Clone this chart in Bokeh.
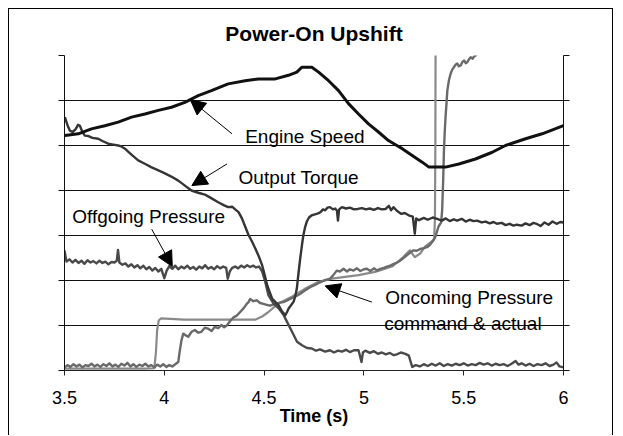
from bokeh.plotting import figure
from bokeh.models import FixedTicker, LinearAxis, Label, Arrow, NormalHead, Range1d
from bokeh.embed import file_html
from bokeh.resources import INLINE

# ---------------- data ----------------
x_ticks = [3.5, 4.0, 4.5, 5.0, 5.5, 6.0]
x_tick_labels = ["3.5", "4", "4.5", "5", "5.5", "6"]
y_grid = [0, 1, 2, 3, 4, 5, 6, 7]

engine_t = [3.502, 3.569, 3.635, 3.702, 3.769, 3.836, 3.903, 3.970, 4.036, 4.103, 4.170, 4.236,
            4.320, 4.405, 4.472, 4.556, 4.622, 4.664, 4.689, 4.739, 4.773, 4.823, 4.873, 4.923,
            4.973, 5.023, 5.073, 5.123, 5.165, 5.192, 5.242, 5.292, 5.326, 5.409, 5.476, 5.559,
            5.643, 5.709, 5.810, 5.893, 6.000]
engine_v = [5.22, 5.26, 5.37, 5.44, 5.52, 5.63, 5.70, 5.78, 5.85, 5.96, 6.11, 6.22,
            6.37, 6.44, 6.48, 6.48, 6.56, 6.63, 6.74, 6.74, 6.63, 6.44, 6.22, 5.93,
            5.70, 5.48, 5.30, 5.11, 5.00, 4.93, 4.78, 4.63, 4.52, 4.52, 4.59, 4.70,
            4.85, 5.00, 5.15, 5.26, 5.44]

torque_t = [3.502, 3.515, 3.527, 3.540, 3.555, 3.568, 3.577, 3.590, 3.602, 3.620, 3.640, 3.669,
            3.690, 3.719, 3.745, 3.769, 3.785, 3.803, 3.820, 3.840, 3.869, 3.900, 3.934, 3.965,
            4.003, 4.035, 4.070, 4.100, 4.136, 4.170, 4.203, 4.235, 4.270, 4.300, 4.320, 4.340,
            4.355, 4.372, 4.389, 4.405, 4.422, 4.440, 4.456, 4.475, 4.490, 4.503, 4.515, 4.528,
            4.540, 4.557, 4.573, 4.590, 4.606, 4.615, 4.623, 4.635, 4.648, 4.656, 4.664, 4.672,
            4.681, 4.690, 4.697, 4.705, 4.714, 4.725, 4.739, 4.755, 4.771, 4.785, 4.795, 4.806,
            4.818, 4.830, 4.845, 4.856, 4.865, 4.870, 4.876, 4.890, 4.910, 4.930, 4.950, 4.969,
            4.990, 5.010, 5.030, 5.050, 5.070, 5.090, 5.109, 5.125, 5.136, 5.148, 5.165, 5.188,
            5.205, 5.228, 5.245, 5.255, 5.262, 5.276, 5.300, 5.320, 5.345, 5.367, 5.390, 5.410,
            5.430, 5.450, 5.467, 5.490, 5.510, 5.530, 5.550, 5.567, 5.590, 5.610, 5.630, 5.650,
            5.666, 5.690, 5.710, 5.730, 5.750, 5.766, 5.790, 5.810, 5.830, 5.850, 5.865, 5.885,
            5.905, 5.925, 5.945, 5.965, 5.984, 6.000]
torque_v = [5.63, 5.45, 5.33, 5.30, 5.36, 5.46, 5.44, 5.30, 5.22, 5.21, 5.17, 5.15,
            5.10, 5.04, 5.02, 5.00, 4.98, 4.93, 4.86, 4.78, 4.67, 4.60, 4.52, 4.46,
            4.38, 4.31, 4.22, 4.12, 4.00, 3.95, 3.91, 3.83, 3.74, 3.67, 3.63, 3.64,
            3.58, 3.52, 3.38, 3.20, 3.01, 2.86, 2.71, 2.52, 2.34, 2.12, 1.90, 1.74,
            1.60, 1.52, 1.45, 1.31, 1.23, 1.30, 1.38, 1.45, 1.53, 1.65, 1.82, 2.15,
            2.49, 2.80, 3.01, 3.18, 3.31, 3.40, 3.45, 3.47, 3.49, 3.53, 3.58, 3.56,
            3.62, 3.63, 3.58, 3.60, 3.55, 3.33, 3.58, 3.63, 3.60, 3.62, 3.58, 3.59,
            3.61, 3.58, 3.60, 3.57, 3.61, 3.58, 3.59, 3.66, 3.56, 3.63, 3.55, 3.48,
            3.50, 3.44, 3.42, 3.04, 3.38, 3.34, 3.39, 3.35, 3.40, 3.37, 3.33, 3.38,
            3.32, 3.36, 3.33, 3.37, 3.31, 3.35, 3.32, 3.33, 3.29, 3.31, 3.27, 3.30,
            3.26, 3.28, 3.23, 3.26, 3.22, 3.24, 3.22, 3.27, 3.23, 3.28, 3.26, 3.21,
            3.29, 3.24, 3.31, 3.26, 3.30, 3.29]

offgoing_t = [3.500, 3.510, 3.525, 3.540, 3.555, 3.570, 3.585, 3.600, 3.615, 3.630, 3.645, 3.660,
              3.675, 3.690, 3.705, 3.720, 3.735, 3.750, 3.762, 3.768, 3.775, 3.790, 3.805, 3.820,
              3.835, 3.850, 3.865, 3.880, 3.895, 3.910, 3.925, 3.940, 3.955, 3.970, 3.985, 4.000,
              4.012, 4.025, 4.040, 4.055, 4.070, 4.085, 4.100, 4.115, 4.130, 4.145, 4.160, 4.175,
              4.190, 4.205, 4.220, 4.235, 4.250, 4.265, 4.280, 4.295, 4.310, 4.318, 4.328, 4.340,
              4.355, 4.370, 4.385, 4.400, 4.415, 4.430, 4.445, 4.460, 4.475, 4.490, 4.506, 4.522,
              4.547, 4.573, 4.598, 4.615, 4.640, 4.665, 4.690, 4.715, 4.739, 4.760, 4.780, 4.806,
              4.830, 4.850, 4.870, 4.890, 4.910, 4.930, 4.950, 4.973, 4.988, 4.995, 5.007, 5.030,
              5.050, 5.070, 5.090, 5.110, 5.130, 5.150, 5.165, 5.185, 5.208, 5.225, 5.242, 5.260,
              5.280, 5.300, 5.320, 5.340, 5.360, 5.380, 5.400, 5.420, 5.440, 5.460, 5.480, 5.500,
              5.520, 5.540, 5.560, 5.580, 5.600, 5.620, 5.640, 5.660, 5.680, 5.700, 5.720, 5.740,
              5.760, 5.775, 5.790, 5.810, 5.830, 5.850, 5.870, 5.890, 5.910, 5.930, 5.950, 5.965,
              5.980, 6.000]
offgoing_v = [2.67, 2.42, 2.47, 2.40, 2.46, 2.39, 2.44, 2.37, 2.45, 2.40, 2.43, 2.38,
              2.44, 2.39, 2.42, 2.36, 2.41, 2.40, 2.44, 2.68, 2.40, 2.35, 2.38, 2.31,
              2.36, 2.29, 2.34, 2.27, 2.33, 2.25, 2.30, 2.22, 2.28, 2.20, 2.26, 2.05,
              2.22, 2.32, 2.26, 2.33, 2.25, 2.31, 2.27, 2.33, 2.26, 2.30, 2.24, 2.31,
              2.27, 2.34, 2.26, 2.30, 2.25, 2.32, 2.27, 2.31, 2.28, 2.04, 2.20, 2.28,
              2.31, 2.27, 2.33, 2.29, 2.34, 2.30, 2.33, 2.29, 2.31, 2.20, 1.97, 1.67,
              1.49, 1.38, 1.23, 1.08, 0.86, 0.64, 0.56, 0.50, 0.49, 0.44, 0.47, 0.42,
              0.45, 0.40, 0.44, 0.42, 0.46, 0.41, 0.45, 0.45, 0.19, 0.40, 0.44, 0.39,
              0.43, 0.37, 0.40, 0.36, 0.39, 0.34, 0.36, 0.40, 0.37, 0.33, 0.08, 0.12,
              0.09, 0.14, 0.10, 0.15, 0.11, 0.16, 0.10, 0.14, 0.11, 0.15, 0.12, 0.16,
              0.11, 0.14, 0.12, 0.17, 0.13, 0.16, 0.11, 0.15, 0.12, 0.14, 0.10, 0.15,
              0.21, 0.13, 0.16, 0.11, 0.15, 0.10, 0.14, 0.12, 0.16, 0.10, 0.13, 0.18,
              0.09, 0.07]

actual_t = [3.500, 3.515, 3.530, 3.545, 3.560, 3.575, 3.590, 3.605, 3.620, 3.635, 3.650, 3.665,
            3.680, 3.695, 3.710, 3.725, 3.740, 3.755, 3.770, 3.785, 3.800, 3.815, 3.830, 3.845,
            3.860, 3.875, 3.890, 3.905, 3.920, 3.935, 3.950, 3.965, 3.980, 3.995, 4.010, 4.025,
            4.040, 4.055, 4.070, 4.078, 4.086, 4.095, 4.108, 4.120, 4.137, 4.153, 4.170, 4.186,
            4.203, 4.220, 4.237, 4.253, 4.270, 4.286, 4.300, 4.313, 4.330, 4.347, 4.363, 4.380,
            4.397, 4.413, 4.422, 4.430, 4.447, 4.463, 4.480, 4.497, 4.513, 4.530, 4.547, 4.564,
            4.580, 4.597, 4.613, 4.630, 4.655, 4.680, 4.705, 4.730, 4.755, 4.780, 4.805, 4.830,
            4.847, 4.864, 4.880, 4.898, 4.915, 4.930, 4.948, 4.965, 4.982, 5.000, 5.015, 5.032,
            5.050, 5.066, 5.082, 5.100, 5.116, 5.132, 5.150, 5.166, 5.182, 5.198, 5.215, 5.232,
            5.249, 5.265, 5.282, 5.300, 5.316, 5.330, 5.341, 5.357, 5.374, 5.387, 5.392, 5.397,
            5.401, 5.405, 5.409, 5.414, 5.418, 5.426, 5.434, 5.442, 5.451, 5.460, 5.468, 5.476,
            5.485, 5.494, 5.502, 5.510, 5.518, 5.527, 5.535, 5.545, 5.552, 5.560, 5.570, 5.600,
            6.000]
actual_v = [0.07, 0.12, 0.08, 0.14, 0.09, 0.13, 0.07, 0.12, 0.10, 0.15, 0.09, 0.13,
            0.08, 0.14, 0.10, 0.16, 0.09, 0.13, 0.08, 0.15, 0.11, 0.17, 0.09, 0.14,
            0.08, 0.13, 0.10, 0.15, 0.09, 0.12, 0.07, 0.13, 0.09, 0.14, 0.08, 0.12,
            0.09, 0.14, 0.19, 0.45, 0.67, 0.82, 0.78, 0.75, 0.86, 0.90, 0.84, 0.86,
            0.95, 0.93, 0.88, 0.97, 0.94, 1.01, 0.96, 1.00, 1.10, 1.18, 1.22, 1.30,
            1.38, 1.48, 1.52, 1.59, 1.54, 1.56, 1.50, 1.48, 1.46, 1.44, 1.47, 1.48,
            1.51, 1.52, 1.55, 1.59, 1.64, 1.70, 1.78, 1.85, 1.90, 1.96, 2.01, 2.04,
            2.12, 2.22, 2.20, 2.26, 2.20, 2.25, 2.22, 2.27, 2.21, 2.25, 2.26, 2.21,
            2.27, 2.22, 2.26, 2.28, 2.31, 2.33, 2.37, 2.40, 2.44, 2.50, 2.56, 2.62,
            2.67, 2.66, 2.70, 2.72, 2.74, 2.79, 2.85, 2.96, 3.20, 3.29, 3.56, 4.20,
            4.89, 5.30, 5.63, 5.95, 6.22, 6.45, 6.59, 6.68, 6.74, 6.80, 6.82, 6.76,
            6.78, 6.86, 6.89, 6.83, 6.85, 6.92, 6.96, 6.93, 6.98, 7.00, 7.05, 7.12,
            7.30]

command_t = [3.500, 3.600, 3.700, 3.800, 3.900, 3.950, 3.958, 3.964, 3.972, 3.984, 4.100, 4.300,
             4.455, 4.490, 4.522, 4.572, 4.639, 4.706, 4.773, 4.840, 4.906, 4.973, 5.056, 5.141,
             5.190, 5.230, 5.255, 5.282, 5.307, 5.332, 5.352, 5.356, 5.358, 5.359, 5.360, 6.000]
command_v = [0.04, 0.04, 0.04, 0.04, 0.04, 0.05, 0.40, 0.89, 1.11, 1.16, 1.13, 1.13,
             1.13, 1.20, 1.30, 1.49, 1.64, 1.82, 1.97, 2.04, 2.08, 2.12, 2.19, 2.31,
             2.49, 2.67, 2.52, 2.60, 2.76, 2.84, 2.91, 3.40, 5.00, 7.00, 7.50, 7.50]

# annotation texts: (text, x, baseline y)
labels = [("Engine Speed", 4.405, 5.20),
          ("Output Torque", 4.372, 4.29),
          ("Offgoing Pressure", 3.539, 3.42),
          ("Oncoming Pressure", 5.107, 1.63),
          ("command & actual", 5.102, 1.05)]
# arrows: (tail x, tail y, tip x, tip y)
arrows = [(4.339, 5.26, 4.130, 6.02),
          (4.314, 4.59, 4.138, 4.11),
          (3.937, 3.14, 4.040, 2.31),
          (5.040, 1.52, 4.806, 1.88)]

FONT = "Liberation Sans"

p = figure(width=605, height=427, x_range=Range1d(3.5, 6.0), y_range=Range1d(0, 7),
           output_backend="svg", toolbar_location=None,
           min_border_left=55, min_border_right=51, min_border_top=46, min_border_bottom=66)
p.outline_line_color = None
p.background_fill_color = "white"
p.border_fill_color = "white"
p.styles = {"margin-left": "8px", "margin-top": "8px",
            "border-left": "1px solid #000", "border-top": "1px solid #000",
            "border-right": "1px solid #000"}

# title
p.title.text = "Power-On Upshift"
p.title.align = "center"
p.title.text_font = FONT
p.title.text_font_size = "21px"
p.title.text_font_style = "bold"
p.title.text_color = "black"
p.title.standoff = 21

# grid
p.xgrid.visible = False
p.ygrid.ticker = FixedTicker(ticks=y_grid)
p.ygrid.grid_line_color = "#111111"
p.ygrid.grid_line_width = 1

# x axis
xa = p.xaxis[0]
xa.ticker = FixedTicker(ticks=x_ticks)
xa.major_label_overrides = {t: l for t, l in zip(x_ticks, x_tick_labels)}
xa.major_label_text_font = FONT
xa.major_label_text_font_size = "18px"
xa.major_label_text_color = "black"
xa.major_label_standoff = 15
xa.major_tick_out = 5
xa.major_tick_in = 0
xa.minor_tick_out = 0
xa.minor_tick_in = 0
xa.axis_line_color = "#222222"
xa.major_tick_line_color = "#222222"
xa.axis_label = "Time (s)"
xa.axis_label_text_font = FONT
xa.axis_label_text_font_size = "18px"
xa.axis_label_text_font_style = "bold"
xa.axis_label_text_color = "black"
xa.axis_label_standoff = -1

# y axes (no labels)
empty = {t: "" for t in y_grid}
ya = p.yaxis[0]
ya.ticker = FixedTicker(ticks=y_grid)
ya.major_label_overrides = empty
ya.major_tick_out = 6
ya.major_tick_in = 0
ya.minor_tick_out = 0
ya.minor_tick_in = 0
ya.axis_line_color = "#111111"
ya.major_tick_line_color = "#111111"

ra = LinearAxis(ticker=FixedTicker(ticks=y_grid), major_label_overrides=empty,
                major_tick_out=6, major_tick_in=0, minor_tick_out=0, minor_tick_in=0,
                axis_line_color="#111111", major_tick_line_color="#111111")
p.add_layout(ra, "right")

# series
p.line(command_t, command_v, line_color="#8a8a8a", line_width=2.2, line_join="round")
p.line(actual_t, actual_v, line_color="#6a6a6a", line_width=2.4, line_join="round")
p.line(offgoing_t, offgoing_v, line_color="#4a4a4a", line_width=2.4, line_join="round")
p.line(torque_t, torque_v, line_color="#353535", line_width=2.4, line_join="round")
p.line(engine_t, engine_v, line_color="#111111", line_width=3, line_join="round")

# annotations
for txt, x, y in labels:
    p.add_layout(Label(x=x, y=y, text=txt, text_font=FONT, text_font_size="19px",
                       text_color="black", text_align="left", text_baseline="alphabetic"))
for x0, y0, x1, y1 in arrows:
    p.add_layout(Arrow(x_start=x0, y_start=y0, x_end=x1, y_end=y1, line_color="black",
                       line_width=1,
                       end=NormalHead(size=15, fill_color="black", line_color="black")))

open("out.html", "w").write(file_html(p, INLINE))
